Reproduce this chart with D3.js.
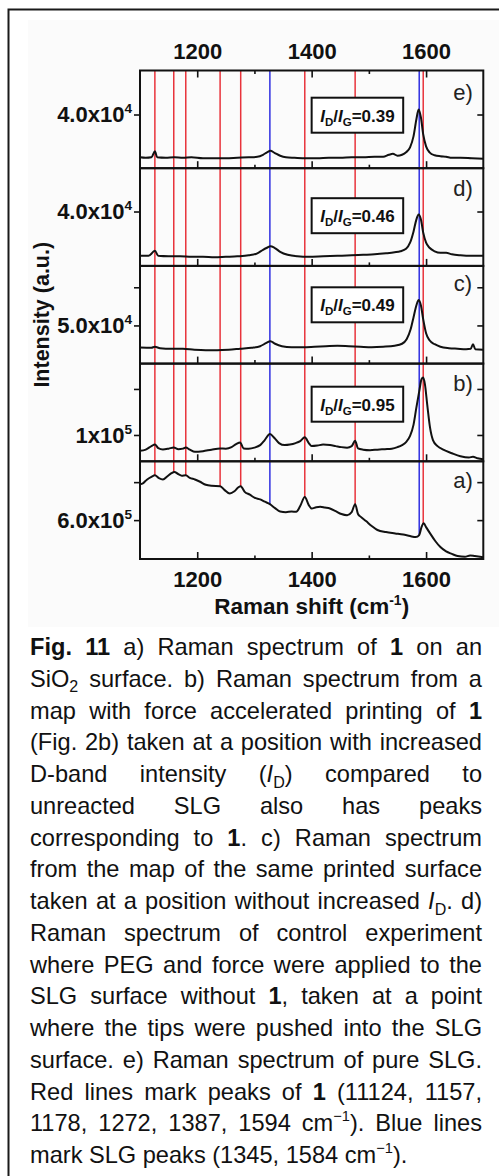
<!DOCTYPE html>
<html><head><meta charset="utf-8">
<script src="https://cdn.jsdelivr.net/npm/d3@7"></script>
<style>body{margin:0;background:#fff}svg{display:block}</style>
</head><body><svg id="c" width="499" height="1176"></svg>
<script>
// ---------------- DATA ----------------
const xDomain = [1100, 1700];
const xMajorTicks = [1200, 1400, 1600];
const xMinorTicks = [1300, 1500];
const redLines = [1126, 1159, 1180, 1240, 1276, 1388, 1476, 1595];
const blueLines = [1327, 1588];
const panelLabels = ["e)", "d)", "c)", "b)", "a)"];
const ratioValues = ["0.39", "0.46", "0.49", "0.95"];
// intensity in 10^3 counts
const yDomains = [[18.4, 57.7], [18.4, 57.2], [0, 128], [42.8, 255.1], [395.25, 909.75]];
const yTicks = [[40], [40], [50, 100], [100, 200], [600, 800]];
const yTickLabels = [[["4.0x10", "4"]], [["4.0x10", "4"]], [["5.0x10", "4"], null], [["1x10", "5"], null], [["6.0x10", "5"], null]];

const seriesE = [[1100,22.8],[1110,22.6],[1120,22.8],[1126,25.2],[1130,22.8],[1145,22.6],[1160,22.8],[1175,22.6],[1190,22.8],[1210,22.4],[1230,22.4],[1250,22.4],[1270,22.6],[1290,22.8],[1305,23.0],[1315,23.8],[1322,24.8],[1328,25.4],[1335,24.6],[1345,23.4],[1355,22.8],[1370,22.6],[1390,22.4],[1410,22.4],[1430,22.6],[1450,22.6],[1470,22.8],[1490,22.8],[1510,23.0],[1525,23.0],[1535,23.8],[1542,24.2],[1550,23.4],[1558,23.8],[1565,24.8],[1572,26.8],[1578,31.2],[1583,38.0],[1587,42.0],[1591,38.8],[1595,32.0],[1600,27.2],[1606,24.8],[1615,23.6],[1625,23.2],[1635,23.0],[1645,22.6],[1660,22.6],[1680,22.4],[1700,22.2]];
const seriesD = [[1100,22.4],[1115,22.4],[1126,24.4],[1132,22.4],[1150,22.2],[1170,22.2],[1190,22.0],[1210,22.0],[1230,21.8],[1250,22.0],[1270,22.2],[1290,22.6],[1305,23.4],[1315,24.8],[1322,25.6],[1328,26.2],[1335,25.6],[1345,24.0],[1358,22.8],[1375,22.2],[1395,22.0],[1420,22.2],[1445,22.4],[1470,22.6],[1490,22.8],[1510,23.0],[1530,23.4],[1545,23.8],[1555,24.2],[1565,25.2],[1572,27.6],[1578,32.0],[1583,36.8],[1587,38.8],[1591,36.8],[1595,31.6],[1600,27.6],[1606,25.6],[1615,24.2],[1625,23.6],[1635,23.6],[1645,23.0],[1660,22.6],[1680,22.4],[1700,22.4]];
const seriesC = [[1100,21.1],[1120,20.8],[1126,22.1],[1135,20.2],[1155,19.5],[1175,19.5],[1195,18.2],[1215,17.6],[1235,17.6],[1255,18.2],[1275,19.5],[1295,20.8],[1310,22.8],[1320,26.7],[1328,29.3],[1336,26.0],[1348,22.8],[1365,21.5],[1385,21.5],[1405,22.1],[1425,22.8],[1445,23.4],[1465,22.8],[1485,22.1],[1505,21.5],[1525,22.1],[1545,23.4],[1558,26.0],[1566,31.9],[1573,44.9],[1578,60.5],[1583,76.1],[1587,83.2],[1591,76.1],[1595,57.9],[1600,39.7],[1606,30.6],[1615,25.4],[1625,22.1],[1640,20.2],[1655,19.5],[1670,18.9],[1678,19.5],[1682,25.4],[1686,18.9],[1700,18.2]];
const seriesB = [[1100,65.5],[1110,68.1],[1120,75.8],[1126,79.5],[1132,71.4],[1140,68.5],[1150,70.3],[1159,72.9],[1167,69.2],[1175,70.3],[1180,72.9],[1187,68.1],[1196,63.3],[1210,64.8],[1225,68.1],[1240,70.7],[1250,70.3],[1260,73.6],[1268,80.2],[1275,83.9],[1281,70.7],[1290,70.3],[1300,72.5],[1310,78.0],[1318,89.0],[1327,102.2],[1335,93.4],[1343,82.4],[1353,78.0],[1362,79.1],[1372,82.4],[1380,86.8],[1388,94.9],[1395,82.4],[1400,75.8],[1410,76.9],[1420,79.1],[1432,78.0],[1442,75.8],[1452,73.6],[1462,72.5],[1470,75.8],[1476,87.5],[1481,70.7],[1490,68.1],[1502,67.0],[1515,68.1],[1528,69.2],[1540,70.3],[1550,73.6],[1558,78.0],[1565,84.6],[1572,97.8],[1578,122.0],[1583,159.4],[1588,194.6],[1592,221.0],[1595,224.7],[1598,210.0],[1602,166.0],[1607,115.4],[1612,89.0],[1620,75.8],[1630,68.1],[1645,60.4],[1660,53.8],[1675,50.9],[1682,52.7],[1690,49.4],[1700,47.2]];
const seriesA = [[1100,789],[1105,794],[1112,813],[1120,828],[1126,836],[1133,821],[1140,814],[1148,831],[1155,847],[1160,854],[1167,842],[1173,834],[1180,836],[1187,823],[1196,814],[1205,802],[1215,786],[1225,781],[1240,779],[1248,758],[1257,740],[1265,752],[1272,773],[1276,779],[1283,749],[1292,734],[1300,718],[1310,709],[1318,697],[1327,684],[1336,663],[1345,645],[1355,642],[1365,645],[1373,644],[1380,674],[1388,722],[1395,679],[1400,661],[1408,668],[1415,670],[1423,666],[1432,661],[1442,647],[1452,632],[1462,626],[1470,642],[1476,684],[1481,632],[1486,617],[1495,595],[1505,569],[1515,548],[1530,537],[1546,530],[1560,524],[1572,516],[1582,511],[1588,521],[1592,563],[1596,583],[1600,563],[1607,530],[1616,490],[1625,458],[1635,435],[1645,422],[1655,411],[1668,407],[1677,414],[1685,411],[1700,404]];
const allSeries = [seriesE, seriesD, seriesC, seriesB, seriesA];

const captionLines = [
 [["Fig. 11","b"],[" a) Raman spectrum of "],["1","b"],[" on an"]],
 [["SiO"],["2","sub"],[" surface. b) Raman spectrum from a"]],
 [["map with force accelerated printing of "],["1","b"]],
 [["(Fig. 2b) taken at a position with increased"]],
 [["D-band intensity ("],["I","i"],["D","sub"],[") compared to"]],
 [["unreacted SLG also has peaks"]],
 [["corresponding to "],["1","b"],[". c) Raman spectrum"]],
 [["from the map of the same printed surface"]],
 [["taken at a position without increased "],["I","i"],["D","sub"],[". d)"]],
 [["Raman spectrum of control experiment"]],
 [["where PEG and force were applied to the"]],
 [["SLG surface without "],["1","b"],[", taken at a point"]],
 [["where the tips were pushed into the SLG"]],
 [["surface. e) Raman spectrum of pure SLG."]],
 [["Red lines mark peaks of "],["1","b"],[" (11124, 1157,"]],
 [["1178, 1272, 1387, 1594 cm"],["\u22121","sup"],["). Blue lines"]],
 [["mark SLG peaks (1345, 1584 cm"],["\u22121","sup"],[")."]]
];

// ---------------- LAYOUT ----------------
const FONT = "'Liberation Sans', Arial, Helvetica, sans-serif";
const INK = "#111";
const plotL = 140, plotR = 483.3, plotT = 70.5, plotB = 559;
const nP = 5, pH = (plotB - plotT) / nP;
const labelOff = [29, 28, 25.5, 27.5, 26.5];
const boxOff = [27.2, 30, 21.4, 23.1];

const svg = d3.select("#c").style("font-family", FONT);
svg.append("rect").attr("width", 499).attr("height", 1176).attr("fill", "#fff");
svg.append("rect").attr("x", 28).attr("y", 20).attr("width", 471).attr("height", 607).attr("fill", "#fbfbfb");
svg.append("path").attr("d", "M8.5,1176V9.5H499").attr("fill", "none").attr("stroke", "#1a1a1a").attr("stroke-width", 2);

const x = d3.scaleLinear().domain(xDomain).range([plotL, plotR]);
const yScales = yDomains.map((d, i) => d3.scaleLinear().domain(d).range([plotT + (i + 1) * pH, plotT + i * pH]));

function rich(sel, segs, size) {
  let shift = 0;
  segs.forEach(([t, s]) => {
    const ts = sel.append("tspan").text(t);
    let target = 0;
    if (s === "sub") { target = size * 0.24; ts.attr("font-size", size * 0.68); }
    if (s === "sup") { target = -size * 0.42; ts.attr("font-size", size * 0.62); }
    if (s === "b") ts.attr("font-weight", "bold");
    if (s === "i") ts.attr("font-style", "italic");
    if (target !== shift) { ts.attr("dy", target - shift); shift = target; }
  });
}

// vertical marker lines: from top down to spectrum a)
const yA = yScales[4];
const bis = d3.bisector(d => d[0]).left;
function interpA(v) {
  const i = Math.max(1, Math.min(seriesA.length - 1, bis(seriesA, v)));
  const a = seriesA[i - 1], b = seriesA[i];
  const t = (v - a[0]) / (b[0] - a[0]);
  return a[1] + t * (b[1] - a[1]);
}
const gl = svg.append("g");
[[redLines, "#e8333b"], [blueLines, "#2f2fe0"]].forEach(([arr, col]) => {
  gl.selectAll(null).data(arr).enter().append("line")
    .attr("x1", d => x(d)).attr("x2", d => x(d))
    .attr("y1", plotT).attr("y2", d => yA(interpA(d)))
    .attr("stroke", col).attr("stroke-width", 1.5);
});

// spectra
allSeries.forEach((s, i) => {
  const line = d3.line().x(d => x(d[0])).y(d => yScales[i](d[1])).curve(d3.curveMonotoneX);
  svg.append("path").datum(s).attr("d", line).attr("fill", "none")
    .attr("stroke", INK).attr("stroke-width", 2).attr("stroke-linejoin", "round");
});

// panels
for (let i = 0; i < nP; i++) {
  const top = plotT + i * pH, bot = top + pH;
  const g = svg.append("g");
  g.append("g").attr("transform", `translate(0,${bot})`)
    .call(d3.axisTop(x).tickValues(xMajorTicks).tickSize(7).tickFormat("").tickSizeOuter(0))
    .call(a => a.select(".domain").remove());
  g.append("g").attr("transform", `translate(0,${bot})`)
    .call(d3.axisTop(x).tickValues(xMinorTicks).tickSize(3.5).tickFormat("").tickSizeOuter(0))
    .call(a => a.select(".domain").remove());
  g.append("g").attr("transform", `translate(${plotL},0)`)
    .call(d3.axisLeft(yScales[i]).tickValues(yTicks[i]).tickSize(6).tickFormat("").tickSizeOuter(0))
    .call(a => a.select(".domain").remove());
  g.append("g").attr("transform", `translate(${plotR},0)`)
    .call(d3.axisLeft(yScales[i]).tickValues(yTicks[i]).tickSize(6).tickFormat("").tickSizeOuter(0))
    .call(a => a.select(".domain").remove())
    .call(a => a.selectAll("line").attr("x2", -6));
  g.selectAll(".tick line").attr("stroke", INK).attr("stroke-width", 1.6);
  g.append("rect").attr("x", plotL).attr("y", top).attr("width", plotR - plotL).attr("height", pH)
    .attr("fill", "none").attr("stroke", INK).attr("stroke-width", 2);
  yTicks[i].forEach((v, k) => {
    const lab = yTickLabels[i][k];
    if (!lab) return;
    const t = svg.append("text").attr("x", 132).attr("y", yScales[i](v) + 7.8)
      .attr("text-anchor", "end").attr("font-weight", "bold").attr("font-size", 22).attr("fill", INK);
    rich(t, [[lab[0]], [lab[1], "sup"]], 22);
  });
  svg.append("text").attr("x", 463).attr("y", top + labelOff[i]).attr("text-anchor", "middle")
    .attr("font-size", 22).attr("fill", "#222").text(panelLabels[i]);
  if (i < 4) {
    const bx = x(1400), bw = x(1560) - x(1400), by = top + boxOff[i];
    svg.append("rect").attr("x", bx).attr("y", by).attr("width", bw).attr("height", 35)
      .attr("fill", "#fff").attr("stroke", INK).attr("stroke-width", 2);
    const t = svg.append("text").attr("x", bx + bw / 2).attr("y", by + 24)
      .attr("text-anchor", "middle").attr("font-size", 17).attr("font-weight", "bold").attr("fill", INK);
    rich(t, [["I", "i"], ["D", "sub"], ["/"], ["I", "i"], ["G", "sub"], ["=" + ratioValues[i]]], 17);
  }
}

// top axis ticks & labels
svg.append("g").attr("transform", `translate(0,${plotT})`)
  .call(d3.axisBottom(x).tickValues(xMajorTicks).tickSize(7).tickFormat("").tickSizeOuter(0))
  .call(a => a.select(".domain").remove());
svg.append("g").attr("transform", `translate(0,${plotT})`)
  .call(d3.axisBottom(x).tickValues(xMinorTicks).tickSize(3.5).tickFormat("").tickSizeOuter(0))
  .call(a => a.select(".domain").remove());
svg.selectAll(".tick line").attr("stroke", INK).attr("stroke-width", 1.6);
const topAx = svg.append("g").attr("transform", `translate(0,${plotT})`)
  .call(d3.axisTop(x).tickValues(xMajorTicks).tickSize(0).tickPadding(11.4).tickFormat(d3.format("d")));
topAx.select(".domain").remove();
const botAx = svg.append("g").attr("transform", `translate(0,${plotB})`)
  .call(d3.axisBottom(x).tickValues(xMajorTicks).tickSize(0).tickPadding(12.8).tickFormat(d3.format("d")));
botAx.select(".domain").remove();
[topAx, botAx].forEach(a => a.selectAll("text").attr("font-family", FONT).attr("font-size", 22)
  .attr("font-weight", "bold").attr("fill", INK));

// axis titles
const xt = svg.append("text").attr("x", (plotL + plotR) / 2).attr("y", 614.3).attr("text-anchor", "middle")
  .attr("font-size", 22.5).attr("font-weight", "bold").attr("fill", INK);
rich(xt, [["Raman shift (cm"], ["-1", "sup"], [")"]], 22.5);
svg.append("text").attr("transform", `translate(49,${(plotT + plotB) / 2}) rotate(-90)`)
  .attr("text-anchor", "middle").attr("font-size", 21.5).attr("font-weight", "bold").attr("fill", INK)
  .text("Intensity (a.u.)");

// caption (justified)
const capX = 30, capW = 452, capY0 = 655, capLH = 31.75, capFS = 23.6;
captionLines.forEach((segs, i) => {
  const t = svg.append("text").attr("x", capX).attr("y", capY0 + i * capLH)
    .attr("font-size", capFS).attr("fill", INK).style("white-space", "pre");
  rich(t, segs, capFS);
  if (i < captionLines.length - 1) {
    const w = t.node().getComputedTextLength();
    const spaces = segs.map(s => s[0]).join("").split(" ").length - 1;
    if (spaces > 0) t.style("word-spacing", ((capW - w) / spaces) + "px");
  }
});
</script></body></html>
